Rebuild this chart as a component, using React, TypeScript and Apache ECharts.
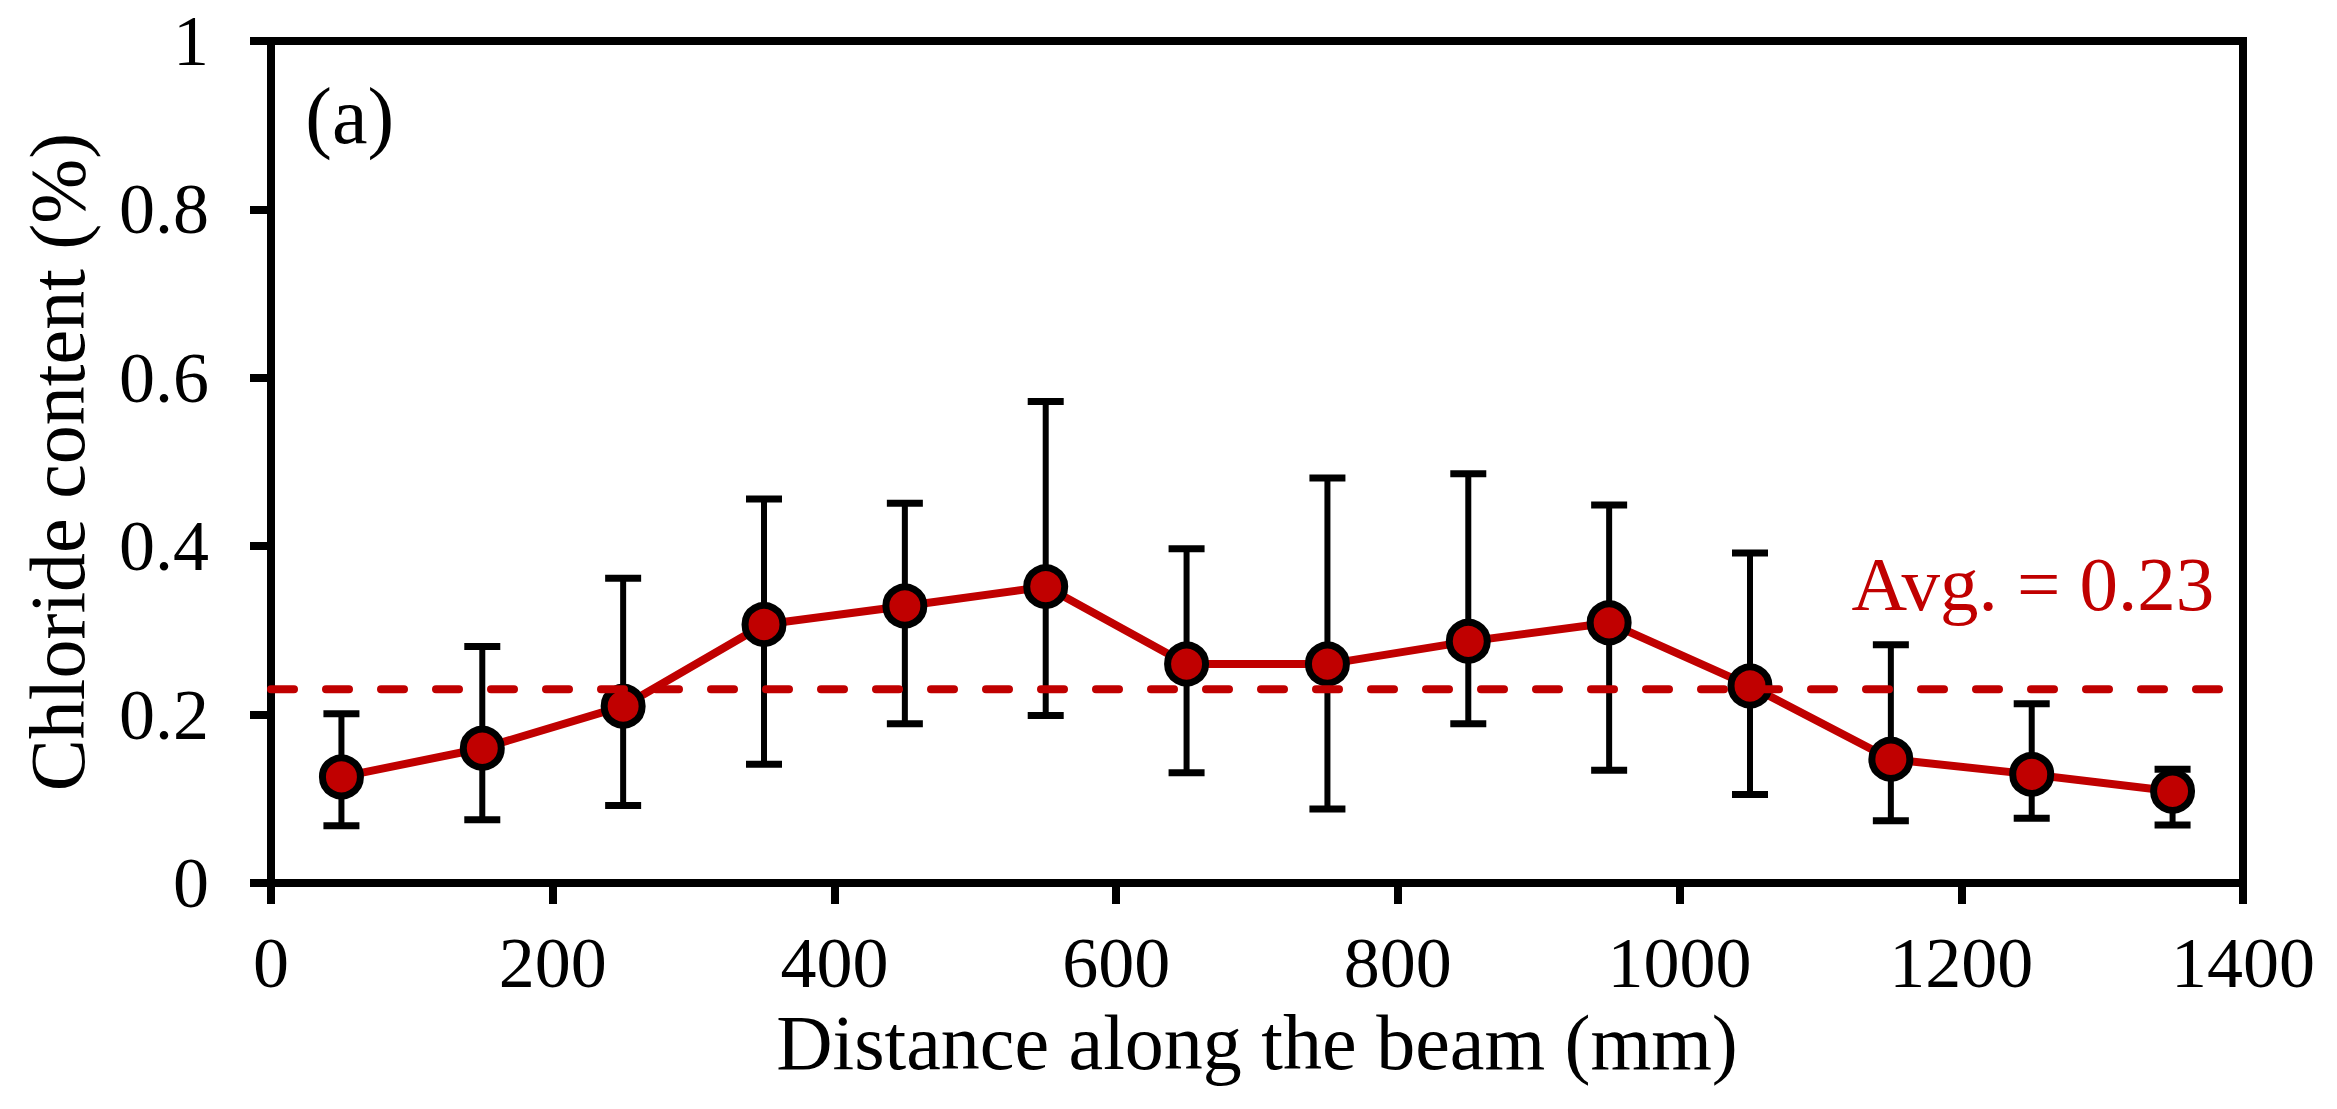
import React, { useEffect, useRef } from "react";
import * as echarts from "echarts";

// ---- data ----
const distances = [50, 150, 250, 350, 450, 550, 650, 750, 850, 950, 1050, 1150, 1250, 1350];
const chlorideMean = [0.126, 0.160, 0.210, 0.307, 0.329, 0.352, 0.260, 0.260, 0.287, 0.309, 0.234, 0.147, 0.129, 0.109];
const chlorideUpper = [0.201, 0.281, 0.362, 0.456, 0.451, 0.572, 0.397, 0.481, 0.486, 0.449, 0.392, 0.283, 0.213, 0.135];
const chlorideLower = [0.068, 0.075, 0.092, 0.141, 0.189, 0.199, 0.131, 0.088, 0.189, 0.134, 0.105, 0.074, 0.077, 0.069];
const averageValue = 0.23;
const averageLineX = [0, 1400];
const averageLabel = "Avg. = 0.23";
const averageLabelPos = [1380, 0.355];
const panelLabel = "(a)";
const panelLabelPos = [24, 0.911];
const xTitle = "Distance along the beam (mm)";
const yTitle = "Chloride content (%)";

const RED = "#C00000";
const FONT = "'Liberation Serif', 'Times New Roman', serif";

export default function App() {
  const ref = useRef<HTMLDivElement>(null);

  useEffect(() => {
    document.body.style.margin = "0";
    if (!ref.current) return;
    const chart = echarts.init(ref.current, undefined, { renderer: "svg" });

    const meanData = distances.map((d, i) => [d, chlorideMean[i]]);
    const errData = distances.map((d, i) => [d, chlorideLower[i], chlorideUpper[i]]);
    const avgData = averageLineX.map((x) => [x, averageValue]);

    const axisCommon = {
      axisLine: { show: true, lineStyle: { color: "#000", width: 8 } },
      axisTick: { show: true, inside: false, length: 21, lineStyle: { color: "#000", width: 8 } },
      splitLine: { show: false },
    };

    chart.setOption({
      animation: false,
      backgroundColor: "#fff",
      grid: {
        left: 271,
        right: 94,
        top: 41,
        bottom: 226,
        show: true,
        borderColor: "#000",
        borderWidth: 8,
        backgroundColor: "transparent",
      },
      xAxis: {
        type: "value",
        min: 0,
        max: 1400,
        interval: 200,
        ...axisCommon,
        axisLabel: {
          color: "#000",
          fontSize: 72,
          lineHeight: 72,
          fontFamily: FONT,
          margin: 44,
          formatter: (v: number) => String(v),
        },
        name: xTitle,
        nameLocation: "middle",
        nameGap: 151,
        nameTextStyle: {
          color: "#000",
          fontSize: 78,
          lineHeight: 78,
          fontFamily: FONT,
          verticalAlign: "middle",
        },
      },
      yAxis: {
        type: "value",
        min: 0,
        max: 1,
        interval: 0.2,
        ...axisCommon,
        axisLabel: {
          color: "#000",
          fontSize: 72,
          lineHeight: 72,
          fontFamily: FONT,
          margin: 62,
          formatter: (v: number) => String(Math.round(v * 10) / 10),
        },
        name: yTitle,
        nameLocation: "middle",
        nameGap: 214,
        nameTextStyle: {
          color: "#000",
          fontSize: 78,
          lineHeight: 78,
          fontFamily: FONT,
          verticalAlign: "middle",
        },
      },
      series: [
        {
          type: "custom",
          name: "error",
          z: 1,
          silent: true,
          data: errData,
          encode: { x: 0, y: [1, 2] },
          renderItem: (params: any, api: any) => {
            const x = api.value(0);
            const lo = api.coord([x, api.value(1)]);
            const hi = api.coord([x, api.value(2)]);
            const hw = 18;
            return {
              type: "group",
              children: [
                { type: "line", shape: { x1: lo[0], y1: lo[1], x2: hi[0], y2: hi[1] }, style: { stroke: "#000", lineWidth: 6 } },
                { type: "line", shape: { x1: hi[0] - hw, y1: hi[1], x2: hi[0] + hw, y2: hi[1] }, style: { stroke: "#000", lineWidth: 7 } },
                { type: "line", shape: { x1: lo[0] - hw, y1: lo[1], x2: lo[0] + hw, y2: lo[1] }, style: { stroke: "#000", lineWidth: 7 } },
              ],
            };
          },
        },
        {
          type: "line",
          name: "mean",
          z: 2,
          data: meanData,
          symbol: "circle",
          symbolSize: 38,
          lineStyle: { color: RED, width: 8 },
          itemStyle: { color: RED, borderColor: "#000", borderWidth: 7 },
          silent: true,
        },
        {
          type: "line",
          name: "average",
          z: 3,
          data: avgData,
          symbol: "none",
          lineStyle: { color: RED, width: 8, type: [23, 32], cap: "round" },
          silent: true,
        },
        {
          type: "scatter",
          name: "avgLabel",
          z: 4,
          data: [averageLabelPos],
          symbolSize: 1,
          itemStyle: { color: "rgba(0,0,0,0)", opacity: 1 },
          silent: true,
          label: {
            show: true,
            position: "left",
            distance: 0,
            formatter: averageLabel,
            color: RED,
            opacity: 1,
            fontSize: 77,
            lineHeight: 77,
            fontFamily: FONT,
          },
        },
        {
          type: "scatter",
          name: "panelLabel",
          z: 4,
          data: [panelLabelPos],
          symbolSize: 1,
          itemStyle: { color: "rgba(0,0,0,0)", opacity: 1 },
          silent: true,
          label: {
            show: true,
            position: "right",
            distance: 0,
            formatter: panelLabel,
            color: "#000",
            opacity: 1,
            fontSize: 80,
            lineHeight: 80,
            fontFamily: FONT,
          },
        },
      ],
    });

    return () => chart.dispose();
  }, []);

  return <div ref={ref} style={{ width: 2337, height: 1109 }} />;
}
